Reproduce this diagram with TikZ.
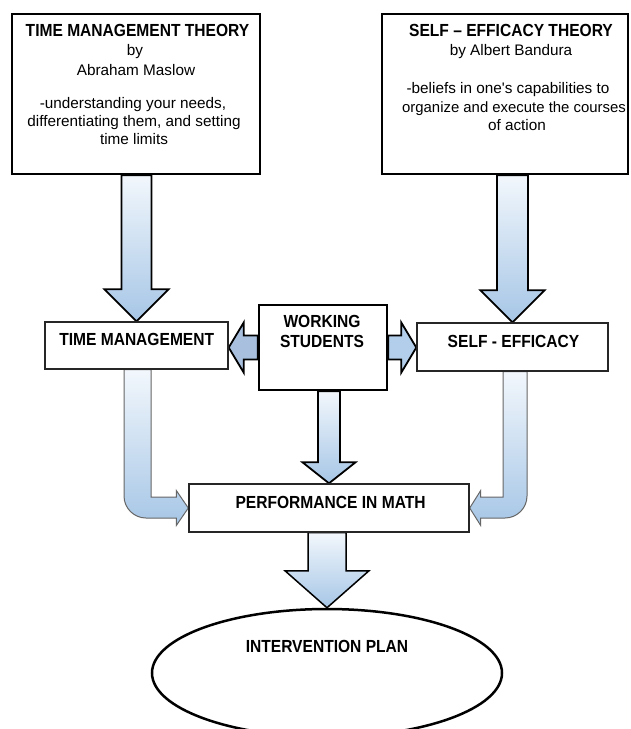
\documentclass[tikz,border=0pt]{standalone}
\usepackage{fontspec}
\setmainfont{Liberation Sans}
\newfontfamily\hb[FakeStretch=0.89]{Liberation Sans}
\usetikzlibrary{shapes.geometric,calc}
\definecolor{arrtop}{HTML}{F2F7FC}
\definecolor{arrbot}{HTML}{A6C6E6}
\definecolor{arrleft}{HTML}{A8C0DE}
\definecolor{arrright}{HTML}{B2CEEA}
\pgfdeclarelayer{bg}
\pgfdeclarelayer{paper}
\pgfsetlayers{paper,bg,main}
\newcommand\vblock[6]{\path[#6] let \p1=(#1), \p2=(#2) in
  (\x2-#3,\y1) -- (\x2-#3,\y2+#5) -- (\x2-#4,\y2+#5) -- (\x2,\y2) --
  (\x2+#4,\y2+#5) -- (\x2+#3,\y2+#5) -- (\x2+#3,\y1) -- cycle;}
\begin{document}
\begin{tikzpicture}[x=1pt,y=-1pt,
  thickbox/.style={draw=black,line width=2.3pt,fill=white,rectangle,inner sep=0pt},
  thinbox/.style={draw=black!85,line width=1.4pt,fill=white,rectangle,inner sep=0pt},
  ttl/.style={anchor=base,inner sep=0pt,font=\hb\bfseries\fontsize{17.5}{20}\selectfont},
  txt/.style={anchor=base,inner sep=0pt,font=\fontsize{15.3}{18}\selectfont},
  blk/.style={draw=black,line width=1.8pt,line join=miter,top color=arrtop,bottom color=arrbot},
  curv/.style={draw=black!60,line width=1pt,line join=miter,top color=arrtop,bottom color=arrbot}]
\begin{pgfonlayer}{paper}
\fill[white] (0,0) rectangle (630,729);
\end{pgfonlayer}
\useasboundingbox (0,0) rectangle (630,729);

% boxes
\node[thickbox,minimum width=248pt,minimum height=160pt] (tmt) at (136,94) {};
\node[thickbox,minimum width=246pt,minimum height=160pt] (set) at (505,94) {};
\node[thinbox,minimum width=183pt,minimum height=47pt] (tm) at (136.5,345.5) {};
\node[thickbox,minimum width=128pt,minimum height=85pt] (ws) at (323,347.5) {};
\node[thinbox,minimum width=191pt,minimum height=48pt] (se) at (512.5,347) {};
\node[thinbox,minimum width=280pt,minimum height=48pt] (pim) at (329,508) {};
\node[ellipse,draw=black,line width=2.5pt,fill=white,minimum width=350pt,minimum height=128pt,inner sep=0pt] (plan) at (327,673) {};

% arrows
\begin{pgfonlayer}{bg}
\vblock{tmt.south}{tm.north}{15pt}{32pt}{32pt}{blk}
\vblock{set.south}{se.north}{15.5pt}{32pt}{32pt}{blk}
\vblock{ws.south}{pim.north}{11pt}{26.5pt}{21pt}{blk}
\vblock{pim.south}{plan.north}{19pt}{42pt}{37pt}{blk,line width=1.5pt}
% working students -> time management
\path[draw=black,line width=1.8pt,line join=miter,fill=arrleft] let \p1=(ws.west), \p2=(tm.east) in
  (\x1,\y1+12pt) -- (\x2+15pt,\y1+12pt) -- (\x2+15pt,\y1+25pt) -- (\x2,\y1) --
  (\x2+15pt,\y1-25pt) -- (\x2+15pt,\y1-12pt) -- (\x1,\y1-12pt) -- cycle;
% working students -> self-efficacy
\path[draw=black,line width=1.8pt,line join=miter,fill=arrright] let \p1=(ws.east), \p2=(se.west) in
  (\x1,\y1+12pt) -- (\x2-15pt,\y1+12pt) -- (\x2-15pt,\y1+25pt) -- (\x2,\y1) --
  (\x2-15pt,\y1-25pt) -- (\x2-15pt,\y1-12pt) -- (\x1,\y1-12pt) -- cycle;
% time management -> performance
\path[curv] let \p1=(tm.south), \p2=(pim.west) in
  (\x1+14.5pt,\y1) -- (\x1+14.5pt,\y2+11pt) -- (\x2-12pt,\y2+11pt) -- (\x2-12pt,\y2+17.5pt) --
  (\x2,\y2) -- (\x2-12pt,\y2-17.5pt) -- (\x2-12pt,\y2-10pt) -- (\x1+9.5pt,\y2-10pt)
  .. controls (\x1-2.6pt,\y2-10pt) and (\x1-12.5pt,\y2-0.1pt) .. (\x1-12.5pt,\y2+12pt)
  -- (\x1-12.5pt,\y1) -- cycle;
% self-efficacy -> performance
\path[curv] let \p1=(se.south), \p2=(pim.east) in
  (\x1-9.5pt,\y1) -- (\x1-9.5pt,\y2+11pt) -- (\x2+11pt,\y2+11pt) -- (\x2+11pt,\y2+17.5pt) --
  (\x2,\y2) -- (\x2+11pt,\y2-17.5pt) -- (\x2+11pt,\y2-10pt) -- (\x1-7.5pt,\y2-10pt)
  .. controls (\x1+4.6pt,\y2-10pt) and (\x1+14.5pt,\y2-0.1pt) .. (\x1+14.5pt,\y2+12pt)
  -- (\x1+14.5pt,\y1) -- cycle;
\end{pgfonlayer}

% texts
\node[ttl] (tmt1) at (137.5,36) {TIME MANAGEMENT THEORY};
\node[txt] (tmt2) at (135,55) {by};
\node[txt] (tmt3) at (136,75) {Abraham Maslow};
\node[txt] (tmt4) at (133,108) {-understanding your needs,};
\node[txt] (tmt5) at (134,126) {differentiating them, and setting};
\node[txt] (tmt6) at (134,144) {time limits};

\node[ttl] (set1) at (511,36) {SELF – EFFICACY THEORY};
\node[txt] (set2) at (511,55) {by Albert Bandura};
\node[txt] (set3) at (508,93) {-beliefs in one\textquotesingle s capabilities to};
\node[txt,font=\fontsize{14.9}{18}\selectfont] (set4) at (514,112) {organize and execute the courses};
\node[txt] (set5) at (517,130) {of action};

\node[ttl] (tmL) at (136.7,345) {TIME MANAGEMENT};
\node[ttl] (wsL1) at (322,327) {WORKING};
\node[ttl] (wsL2) at (322,347) {STUDENTS};
\node[ttl] (seL) at (513.5,347) {SELF - EFFICACY};
\node[ttl] (pimL) at (330.6,508) {PERFORMANCE IN MATH};
\node[ttl] (planL) at (327,652) {INTERVENTION PLAN};
\end{tikzpicture}
\end{document}
